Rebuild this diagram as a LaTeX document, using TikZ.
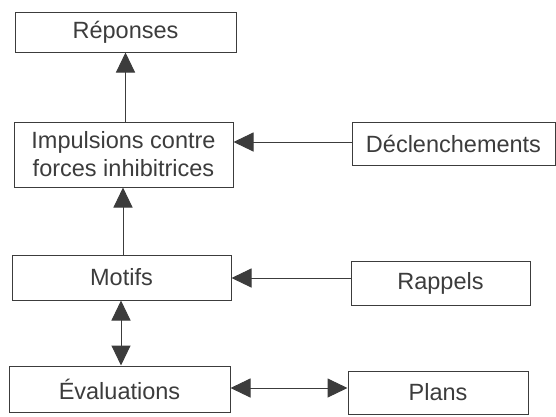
\documentclass[tikz,border=0pt]{standalone}
\usepackage{fontspec}
\setmainfont{Liberation Sans}
\usetikzlibrary{arrows.meta}
\definecolor{ink}{HTML}{3C3C3C}
\begin{document}
\begin{tikzpicture}[x=1pt,y=-1pt,
  box/.style={draw=ink,line width=1pt,rectangle,inner sep=0pt,text=ink,
    font=\fontsize{23.5}{28}\selectfont,align=center},
  conn/.style={draw=ink,line width=1pt,-{Triangle[length=20pt,width=19pt]}},
  conn2/.style={draw=ink,line width=1pt,{Triangle[length=20pt,width=19pt]}-{Triangle[length=20pt,width=19pt]}}]
\useasboundingbox (0,0) rectangle (556,416);
\node[box,minimum width=221pt,minimum height=40pt] (rep) at (125.5,32) {Réponses};
\node[box,minimum width=219pt,minimum height=65pt] (imp) at (123.5,154.5) {Impulsions contre\\forces inhibitrices};
\node[box,minimum width=203pt,minimum height=43pt] (dec) at (453.5,143.5) {Déclenchements};
\node[box,minimum width=219pt,minimum height=45pt] (mot) at (121.5,277.5) {Motifs};
\node[box,minimum width=179pt,minimum height=44pt] (rap) at (440.5,283) {Rappels};
\node[box,minimum width=221pt,minimum height=46pt] (eva) at (119.5,389) {Évaluations};
\node[box,minimum width=180pt,minimum height=43pt] (pla) at (438,392.5) {Plans};
\draw[conn] (imp.north -| rep.south) -- (rep.south);
\draw[conn] (mot.north -| 123,0) -- (imp.south -| 123,0);
\draw[conn2] (mot.south -| 121,0) -- (eva.north -| 121,0);
\coordinate (decl) at (dec.west |- 0,142);
\draw[conn] (decl) -- (decl -| imp.east);
\coordinate (rapl) at (rap.west |- 0,278);
\draw[conn] (rapl) -- (rapl -| mot.east);
\coordinate (evar) at (eva.east |- 0,388);
\draw[conn2] (evar) -- (evar -| pla.west);
\end{tikzpicture}
\end{document}
